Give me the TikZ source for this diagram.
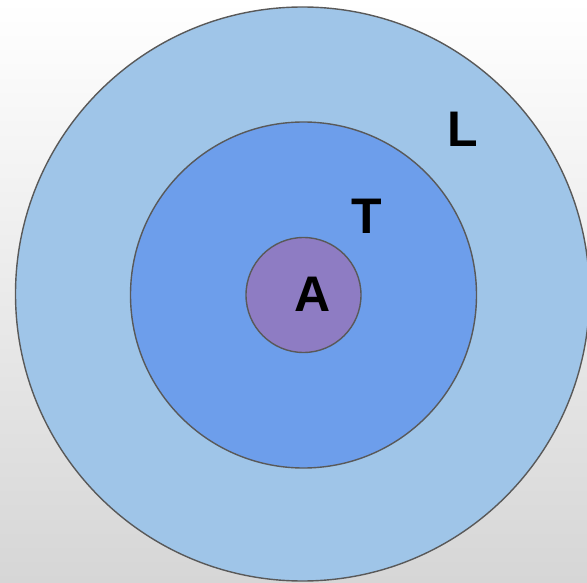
\documentclass[tikz,border=0pt]{standalone}
\usepackage{fontspec}
\setmainfont{Liberation Sans}
\usetikzlibrary{positioning}

\definecolor{outerblue}{HTML}{9FC5E8}
\definecolor{midblue}{HTML}{6D9EEB}
\definecolor{innerviolet}{HTML}{8E7CC3}
\definecolor{ringline}{HTML}{595959}
\definecolor{bggray}{HTML}{D6D6D6}

\begin{document}
\begin{tikzpicture}[x=1pt, y=-1pt, line join=round,
    ring/.style={circle, draw=ringline, line width=1.4pt, inner sep=0pt},
    lbl/.style={inner sep=0pt, font=\fontsize{50}{60}\selectfont\bfseries}]
  % background
  \shade[top color=white, bottom color=bggray] (0,0) rectangle (587,583);
  \useasboundingbox (0,0) rectangle (587,583);
  % rings
  \node[ring, fill=outerblue, minimum size=574pt] (outer) at (302.5,294) {};
  \node[ring, fill=midblue, minimum size=346pt] (mid) at (303.5,295) {};
  \node[ring, fill=innerviolet, minimum size=115pt] (inner) at (303.5,295) {};
  % labels
  \node[lbl] (lblL) at (463,129) {L};
  \node[lbl] (lblT) at (367,216) {T};
  \node[lbl] (lblA) at (312.5,294) {A};
\end{tikzpicture}
\end{document}
